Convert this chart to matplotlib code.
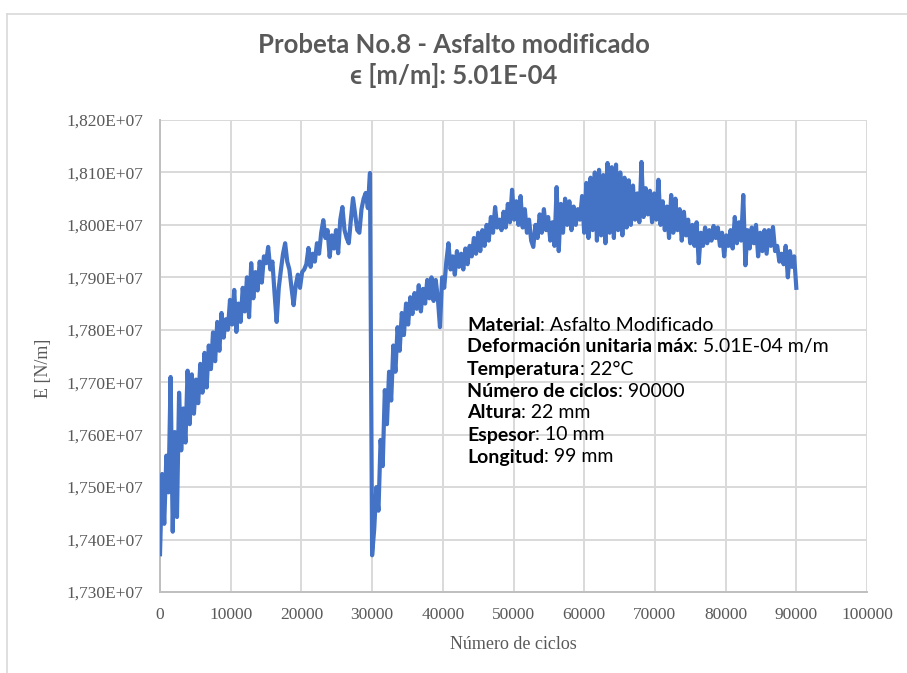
import numpy as np
import matplotlib
matplotlib.use("Agg")
import matplotlib.pyplot as plt
from matplotlib.ticker import FuncFormatter, MultipleLocator
from matplotlib.lines import Line2D

# Test record: specimen No.8, modified asphalt, one reading every 300 cycles
paso_ciclos = 300
ciclos_max = 90000

# Modulus E, in units of 1e7 N/m
modulo_e7 = [
    # 0 - 29700 cycles
    1.7372, 1.7525, 1.7430, 1.7560, 1.7490, 1.7710, 1.7415, 1.7605, 1.7443, 1.7680,
    1.7570, 1.7650, 1.7585, 1.7722, 1.7620, 1.7715, 1.7640, 1.7705, 1.7660, 1.7735,
    1.7680, 1.7756, 1.7690, 1.7770, 1.7725, 1.7795, 1.7740, 1.7815, 1.7760, 1.7832,
    1.7785, 1.7820, 1.7800, 1.7857, 1.7810, 1.7876, 1.7796, 1.7850, 1.7815, 1.7880,
    1.7835, 1.7900, 1.7824, 1.7927, 1.7860, 1.7910, 1.7875, 1.7930, 1.7890, 1.7940,
    1.7927, 1.7958, 1.7915, 1.7930, 1.7870, 1.7815, 1.7880, 1.7914, 1.7945, 1.7965,
    1.7930, 1.7915, 1.7880, 1.7847, 1.7885, 1.7905, 1.7880, 1.7910, 1.7915, 1.7925,
    1.7956, 1.7920, 1.7945, 1.7930, 1.7965, 1.7945, 1.7985, 1.8009, 1.7975, 1.7990,
    1.7939, 1.7980, 1.7955, 1.7990, 1.7946, 1.8010, 1.8034, 1.7990, 1.7975, 1.7965,
    1.8010, 1.8051, 1.8020, 1.7990, 1.7985, 1.8030, 1.8050, 1.8061, 1.8032, 1.8099,
    # 30000 - 59700 cycles
    1.7370, 1.7420, 1.7500, 1.7455, 1.7590, 1.7540, 1.7685, 1.7620, 1.7720, 1.7665,
    1.7770, 1.7720, 1.7805, 1.7760, 1.7832, 1.7790, 1.7850, 1.7810, 1.7862, 1.7830,
    1.7870, 1.7840, 1.7885, 1.7835, 1.7878, 1.7850, 1.7895, 1.7860, 1.7900, 1.7855,
    1.7895, 1.7860, 1.7805, 1.7900, 1.7880, 1.7930, 1.7965, 1.7915, 1.7940, 1.7905,
    1.7950, 1.7920, 1.7945, 1.7915, 1.7955, 1.7925, 1.7960, 1.7940, 1.7975, 1.7945,
    1.7985, 1.7950, 1.7990, 1.7960, 1.8000, 1.7970, 1.8015, 1.7985, 1.8034, 1.7995,
    1.8010, 1.7990, 1.8025, 1.7995, 1.8040, 1.8005, 1.8067, 1.8010, 1.8045, 1.8000,
    1.8055, 1.7995, 1.8030, 1.7985, 1.8010, 1.7970, 1.7958, 1.8000, 1.7975, 1.8020,
    1.7985, 1.8030, 1.7990, 1.8015, 1.7970, 1.8005, 1.7960, 1.8072, 1.7950, 1.8040,
    1.7985, 1.8050, 1.8000, 1.8045, 1.7990, 1.8035, 1.8000, 1.8030, 1.8010, 1.8055,
    # 60000 - 89700 cycles
    1.7985, 1.8080, 1.7975, 1.8090, 1.7990, 1.8100, 1.7970, 1.8105, 1.7980, 1.8095,
    1.7965, 1.8118, 1.7985, 1.8110, 1.7975, 1.8115, 1.7990, 1.8100, 1.7980, 1.8090,
    1.7995, 1.8085, 1.8000, 1.8075, 1.8010, 1.8060, 1.8005, 1.8120, 1.8015, 1.8070,
    1.8020, 1.8065, 1.8005, 1.8060, 1.8010, 1.8086, 1.8000, 1.8045, 1.7990, 1.8035,
    1.7975, 1.8057, 1.7985, 1.8050, 1.7990, 1.8030, 1.7970, 1.8025, 1.7980, 1.8010,
    1.7965, 1.8000, 1.7960, 1.8005, 1.7927, 1.7985, 1.7960, 1.7995, 1.7965, 1.7990,
    1.7970, 1.7998, 1.7975, 1.7995, 1.7960, 1.7985, 1.7940, 1.7980, 1.7960, 1.7990,
    1.7955, 1.8015, 1.7965, 1.8005, 1.7970, 1.8057, 1.7923, 1.7990, 1.7955, 1.7995,
    1.7965, 1.8000, 1.7940, 1.7985, 1.7950, 1.7990, 1.7945, 1.7990, 1.7960, 1.7996,
    1.7950, 1.7960, 1.7930, 1.7945, 1.7925, 1.7960, 1.7900, 1.7950, 1.7920, 1.7940,
    # 90000 cycles
    1.7880,
]

ciclos = np.arange(0, ciclos_max + 1, paso_ciclos)
modulo = np.array(modulo_e7) * 1e7

titulo = ["Probeta No.8 - Asfalto modificado", "\u03f5 [m/m]: 5.01E-04"]
datos_probeta = [
    ("Material", "Asfalto Modificado"),
    ("Deformación unitaria máx", "5.01E-04 m/m"),
    ("Temperatura", "22°C"),
    ("Número de ciclos", "90000"),
    ("Altura", "22 mm"),
    ("Espesor", "10 mm"),
    ("Longitud", "99 mm"),
]

GRIS_TEXTO = "#595959"
GRIS_REJILLA = "#d9d9d9"
AZUL = "#4472c4"
SERIF = ["Liberation Serif", "DejaVu Serif"]
SANS = ["Lato", "DejaVu Sans"]

W, H = 907, 673
fig = plt.figure(figsize=(W / 100, H / 100), dpi=100)
fig.patch.set_facecolor("white")

# thin chart-area frame (left and top edges)
fig.add_artist(Line2D([7 / W, 7 / W], [0, 1 - 14 / H], transform=fig.transFigure,
                      color=GRIS_REJILLA, lw=1.2))
fig.add_artist(Line2D([7 / W, 1], [1 - 14 / H, 1 - 14 / H], transform=fig.transFigure,
                      color=GRIS_REJILLA, lw=1.2))

ax = fig.add_axes([160 / W, 1 - 592 / H, (867 - 160) / W, (592 - 120) / H])

ax.plot(ciclos, modulo, color=AZUL, lw=3.0, solid_joinstyle="round", zorder=3)

ax.set_xlim(0, 100000)
ax.set_ylim(1.73e7, 1.82e7)
ax.xaxis.set_major_locator(MultipleLocator(10000))
ax.yaxis.set_major_locator(MultipleLocator(0.01e7))
ax.yaxis.set_major_formatter(
    FuncFormatter(lambda v, p: f"{v / 1e7:.3f}".replace(".", ",") + "E+07"))
ax.xaxis.set_major_formatter(FuncFormatter(lambda v, p: f"{v:.0f}"))

ax.grid(True, color=GRIS_REJILLA, lw=1.4, zorder=0)
ax.set_axisbelow(True)
for lado in ("top", "right"):
    ax.spines[lado].set_visible(False)
for lado in ("left", "bottom"):
    ax.spines[lado].set_color("#bfbfbf")
    ax.spines[lado].set_linewidth(1.4)
ax.tick_params(length=0, colors=GRIS_TEXTO, labelsize=12.5)
ax.tick_params(axis="y", pad=12)
ax.tick_params(axis="x", pad=11)
for lbl in ax.get_xticklabels() + ax.get_yticklabels():
    lbl.set_family(SERIF)

ax.set_xlabel("Número de ciclos", family=SERIF, fontsize=13, color=GRIS_TEXTO, labelpad=9)
ax.set_ylabel("E [N/m]", family=SERIF, fontsize=13, color=GRIS_TEXTO)
ax.yaxis.set_label_coords(52 / W, 1 - 368 / H, transform=fig.transFigure)

# two-line title
fig.text(0.5, 1 - 45 / H, titulo[0], ha="center", va="center", family=SANS,
         weight="bold", fontsize=18.5, color=GRIS_TEXTO)
fig.text(0.5, 1 - 75 / H, titulo[1], ha="center", va="center", family=SANS,
         weight="bold", fontsize=18.5, color=GRIS_TEXTO)

# specimen data block: bold key followed by regular value
y0 = 325
for k, (clave, valor) in enumerate(datos_probeta):
    t = fig.text(467 / W, 1 - (y0 + 22 * k) / H, clave, ha="left", va="center",
                 family=SANS, weight="bold", fontsize=14, color="black")
    ax.annotate(": " + valor, xy=(1, 0), xycoords=t, va="bottom", ha="left",
                family=SANS, fontsize=14, color="black", annotation_clip=False)

fig.savefig("out.png", dpi=100, facecolor="white")
